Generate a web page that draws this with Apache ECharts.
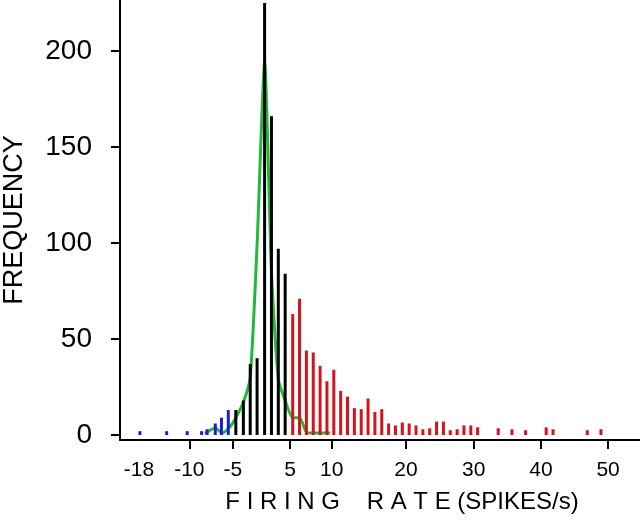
<!DOCTYPE html>
<html>
<head>
<meta charset="utf-8">
<script src="https://cdn.jsdelivr.net/npm/echarts@6/dist/echarts.min.js"></script>
<style>
html, body { margin: 0; padding: 0; background: #fff; }
#canva { width: 640px; height: 520px; }
</style>
</head>
<body>
<div id="canva"></div>
<script>
// ========== Data (x = bin slot along the axis, one slot per bar) ==========
const blueX = [-22.3, -18.4, -15.4, -13.3, -12.5, -11.3, -10.4, -9.4];
const blueY = [2, 2, 2, 2, 3, 6, 9, 13];

const blackX = [-8.3, -7.2, -6.2, -5.2, -4.1, -3.1, -2.1, -1.1];
const blackY = [13, 18, 37, 40, 225, 166, 97, 84];

const redX = [0, 1, 2, 3, 4, 5, 6, 7, 8, 9, 10, 11, 12, 13, 14, 15, 16, 17, 18, 19,
    20, 21, 22, 23, 24, 25, 26, 27, 30, 32, 34, 37, 38, 43, 45];
const redY = [63, 71, 44, 43, 36, 28, 34, 23, 20, 14, 13.5, 19, 12, 13.5, 6, 5, 6.5, 6, 5, 3,
    3.5, 7, 7, 2.5, 3, 5, 5, 4, 3.5, 3, 2.5, 4, 3, 2.5, 3];

// fitted curve (green)
const greenX = [-12.8, -12.5, -11.3, -10.3, -9.3, -8.3, -7.2, -6.2, -5.2, -4.1, -3.1, -2.1, -1.1, 0, 1, 2, 3, 4, 5, 5.5];
const greenY = [0.5, 1.5, 3.6, 1, 3.6, 9, 17, 30, 99, 194, 85, 29, 18, 9, 9, 1.5, 1, 1, 1, 1];

// tick labels of the firing-rate axis, placed at their slot position
const tickPos = [-22.44, -15.09, -8.72, -0.39, 5.69, 16.54, 26.42, 36.25, 46.04];
const tickText = ['-18', '-10', '-5', '5', '10', '20', '30', '40', '50'];
const yTicks = [0, 50, 100, 150, 200];

function pairs(xs, ys) {
    return xs.map((x, i) => [x, ys[i]]);
}

var myChart = echarts.init(document.getElementById('canva'));
var option = {
    animation: false,
    backgroundColor: '#fff',
    textStyle: { fontFamily: 'Liberation Sans, Arial, sans-serif' },
    grid: { left: 120, right: 0, top: 0, bottom: 80, outerBoundsMode: 'none', containLabel: false },
    xAxis: {
        type: 'value',
        min: -25.21,
        max: 50.70,
        name: 'F I R I N G    R A T E (SPIKES/s)',
        nameLocation: 'middle',
        nameGap: 50,
        nameTextStyle: { fontSize: 24, color: '#000', padding: [0, 0, 0, 44] },
        axisLine: { onZero: false, lineStyle: { color: '#000', width: 2 } },
        axisTick: {
            show: true, length: 9, lineStyle: { color: '#000', width: 2 },
            customValues: tickPos.slice(1)
        },
        axisLabel: {
            customValues: tickPos,
            margin: 20,
            fontSize: 21,
            color: '#000',
            formatter: function (v) {
                let best = 0;
                tickPos.forEach((p, i) => {
                    if (Math.abs(p - v) < Math.abs(tickPos[best] - v)) best = i;
                });
                return tickText[best];
            }
        },
        splitLine: { show: false }
    },
    yAxis: {
        type: 'value',
        min: -2.6,
        max: 226.56,
        name: 'FREQUENCY',
        nameLocation: 'middle',
        nameRotate: 90,
        nameGap: 92,
        nameTextStyle: { fontSize: 27, color: '#000' },
        axisLine: { show: true, onZero: false, lineStyle: { color: '#000', width: 2 } },
        axisTick: {
            show: true, length: 9, lineStyle: { color: '#000', width: 2 },
            customValues: yTicks
        },
        axisLabel: {
            customValues: yTicks,
            margin: 28,
            fontSize: 28,
            color: '#000'
        },
        splitLine: { show: false }
    },
    series: [
        {
            name: 'fit',
            type: 'line',
            z: 1,
            showSymbol: false,
            smooth: 0.2,
            lineStyle: { color: '#22b83a', width: 3 },
            data: pairs(greenX, greenY)
        },
        {
            name: 'low',
            type: 'bar',
            z: 2,
            barWidth: 3,
            barGap: '-100%',
            itemStyle: { color: '#1c1cd6' },
            data: pairs(blueX, blueY)
        },
        {
            name: 'mid',
            type: 'bar',
            z: 2,
            barWidth: 3,
            barGap: '-100%',
            itemStyle: { color: '#000' },
            data: pairs(blackX, blackY)
        },
        {
            name: 'high',
            type: 'bar',
            z: 2,
            barWidth: 3,
            barGap: '-100%',
            itemStyle: { color: '#d3141c' },
            data: pairs(redX, redY)
        }
    ]
};
myChart.setOption(option);
</script>
</body>
</html>
